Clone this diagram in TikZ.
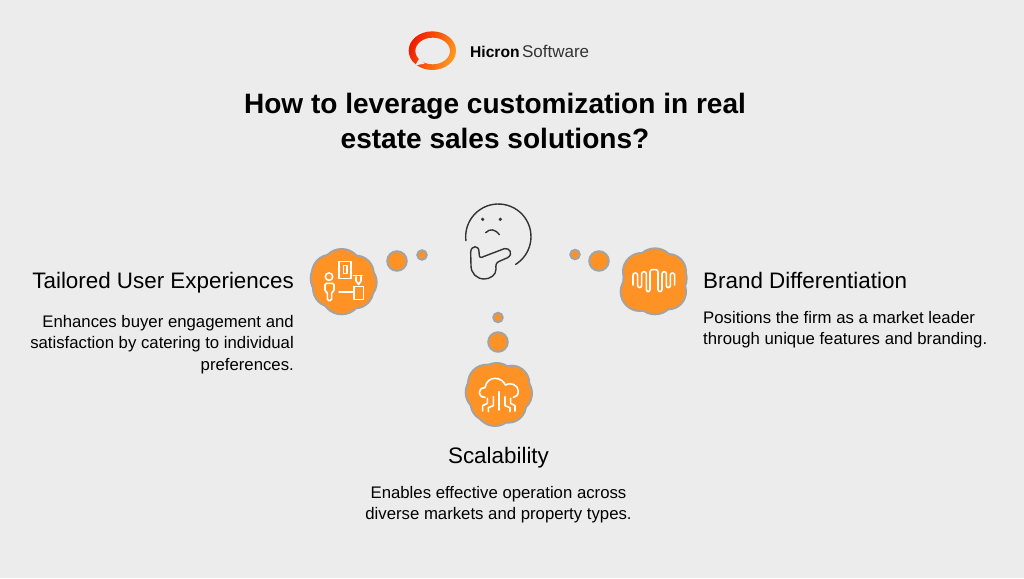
\documentclass[tikz,border=0pt]{standalone}
\usepackage{fontspec}
\setmainfont{Liberation Sans}
\definecolor{bg}{HTML}{ECECEC}
\definecolor{blobfill}{HTML}{FF9225}
\definecolor{blobedge}{HTML}{A3A3A3}
\definecolor{ink}{HTML}{333333}
\definecolor{logoa}{HTML}{EE1C00}
\definecolor{logob}{HTML}{FF9A1F}
\newcommand{\cloudshape}[1]{%
  \foreach \cx/\cy/\cr in {#1} {\fill[blobedge] (\cx,\cy) circle[radius=\cr+1];}
  \foreach \cx/\cy/\cr in {#1} {\fill[blobfill] (\cx,\cy) circle[radius=\cr-5];}
}
\tikzset{
  bigbubble/.style={circle,fill=blobfill,draw=blobedge,line width=2pt,minimum size=19.5pt,inner sep=0pt},
  smallbubble/.style={circle,fill=blobfill,draw=blobedge,line width=2pt,minimum size=9.5pt,inner sep=0pt},
  icon/.style={draw=white,line width=1.6pt,line join=round,line cap=round},
  faceline/.style={draw=ink,line width=1.4pt,line cap=round,line join=round},
  headtext/.style={inner sep=0pt,font=\fontsize{22.4}{26}\selectfont,text=black},
  bodytext/.style={inner sep=0pt,font=\fontsize{16.75}{21.5}\selectfont,text=black},
  zoomed/.style={x=0.3333pt,y=-0.3333pt}
}
\begin{document}
\begin{tikzpicture}[x=1pt,y=-1pt]
\useasboundingbox (0,0) rectangle (1024,578);
\fill[bg] (0,0) rectangle (1024,578);

% logo
\begin{scope}[shift={(400,25)},zoomed]
\path[even odd rule,left color=logoa,right color=logob,shading angle=65]
  (97,77) ellipse[x radius=71,y radius=58]
  (98,78) ellipse[x radius=52,y radius=40];
\fill[bg] (58,100) -- (46,121) -- (74,116) -- cycle;
\end{scope}
\node[inner sep=0pt,anchor=base west,font=\fontsize{16.5}{20}\selectfont] (logotext) at (470,58)
  {\fontsize{15.6}{20}\selectfont\textbf{Hicron}\hspace{2.5pt}\fontsize{17}{20}\selectfont\textcolor{ink}{Software}};

% title
\node[inner sep=0pt,align=center,anchor=north,font=\bfseries\fontsize{28.05}{34.5}\selectfont] (title) at (495,93)
  {How to leverage customization in real\\estate sales solutions?};

% thinking face
\begin{scope}[shift={(455,195)},zoomed]
\draw[faceline] plot[smooth,samples=40,domain=187:-58] ({130+98*cos(\x)},{125-98*sin(\x)});
\fill[ink] (83,73) circle[radius=1.8pt] (136,73) circle[radius=1.8pt];
\draw[faceline] (92,113) .. controls (105,100) and (120,102) .. (133,119);
\draw[faceline] (80,187) -- (148,161) .. controls (165,157) and (175,178) .. (158,188)
  -- (135,198) .. controls (122,203) and (122,210) .. (123,222)
  .. controls (124,240) and (105,252) .. (88,252)
  .. controls (65,252) and (48,235) .. (48,212)
  -- (47,172) .. controls (48,150) and (72,150) .. (72,170)
  .. controls (72,178) and (72,190) .. (80,187);
\end{scope}

% bubbles
\node[bigbubble] (bl) at (397,261) {};
\node[smallbubble] (sl) at (422,255) {};
\node[smallbubble] (sr) at (575,254.5) {};
\node[bigbubble] (br) at (599,261) {};
\node[smallbubble] (sb) at (498,317.5) {};
\node[bigbubble] (bb) at (498,342) {};

% left blob
\begin{scope}[shift={(300,195)},zoomed]
\cloudshape{125/222/62, 168/235/55, 175/262/57, 165/285/57, 125/298/62, 95/280/58, 92/250/62, 92/235/58}
\end{scope}
\begin{scope}[shift={(315,250)},zoomed]
\draw[icon] (42,80) circle[radius=3.7pt];
\draw[icon,rounded corners=1.5pt] (37,152) -- (37,125) -- (30,125) -- (30,100) -- (57,100) -- (57,125) -- (50,125) -- (50,152) -- cycle;
\draw[icon] (72,126) -- (115,126);
\draw[icon] (72,35) rectangle (108,85);
\draw[icon] (85,47) rectangle (96,70);
\draw[icon] (117,110) rectangle (145,148);
\draw[icon] (115,77) -- (142,77);
\draw[icon] (123,80) -- (123,93) -- (131,103) -- (138,93) -- (138,80);
\end{scope}

% right blob
\begin{scope}[shift={(560,235)},zoomed]
\cloudshape{285/100/62, 325/110/55, 320/130/62, 325/170/55, 285/178/62, 240/170/60, 248/135/60, 245/110/58}
\end{scope}
\begin{scope}[shift={(628,265)},zoomed]
\draw[icon,rounded corners=2.2pt] (15,60) -- (15,24) -- (29,24) -- (29,68) -- (41,68) -- (41,20) -- (55,20) -- (55,80) -- (66,80) -- (66,14) -- (90,14) -- (90,80) -- (102,80) -- (102,20) -- (115,20) -- (115,68) -- (127,68) -- (127,24) -- (140,24) -- (140,60);
\end{scope}

% bottom blob
\begin{scope}[shift={(450,305)},zoomed]
\cloudshape{140/232/60, 185/235/55, 190/265/58, 175/300/55, 135/305/60, 115/295/55, 105/262/60, 110/235/58}
\end{scope}
\begin{scope}[shift={(470,365)},zoomed]
\draw[icon] (45,97) .. controls (22,97) and (22,68) .. (45,68) .. controls (48,50) and (60,40) .. (75,40) .. controls (90,40) and (102,50) .. (106,60) .. controls (120,50) and (145,60) .. (145,78) .. controls (145,90) and (138,97) .. (130,97);
\draw[icon] (87,80) -- (87,135);
\draw[icon] (52,100) -- (52,115) -- (38,122) -- (38,138);
\draw[icon] (70,95) -- (70,122) -- (55,128) -- (55,140);
\draw[icon] (105,95) -- (105,122) -- (120,128) -- (120,140);
\draw[icon] (122,100) -- (122,115) -- (135,122) -- (135,138);
\end{scope}

% texts
\node[headtext,anchor=base east] (h1) at (294,288) {Tailored User Experiences};
\node[bodytext,align=right,anchor=north east] (t1) at (294,315) {Enhances buyer engagement and\\satisfaction by catering to individual\\preferences.};
\node[headtext,anchor=base west] (h2) at (703,288) {Brand Differentiation};
\node[bodytext,align=left,anchor=north west] (t2) at (703,311) {Positions the firm as a market leader\\through unique features and branding.};
\node[headtext,anchor=base] (h3) at (498.5,463) {Scalability};
\node[bodytext,align=center,anchor=north] (t3) at (498.5,486) {Enables effective operation across\\diverse markets and property types.};
\end{tikzpicture}
\end{document}
